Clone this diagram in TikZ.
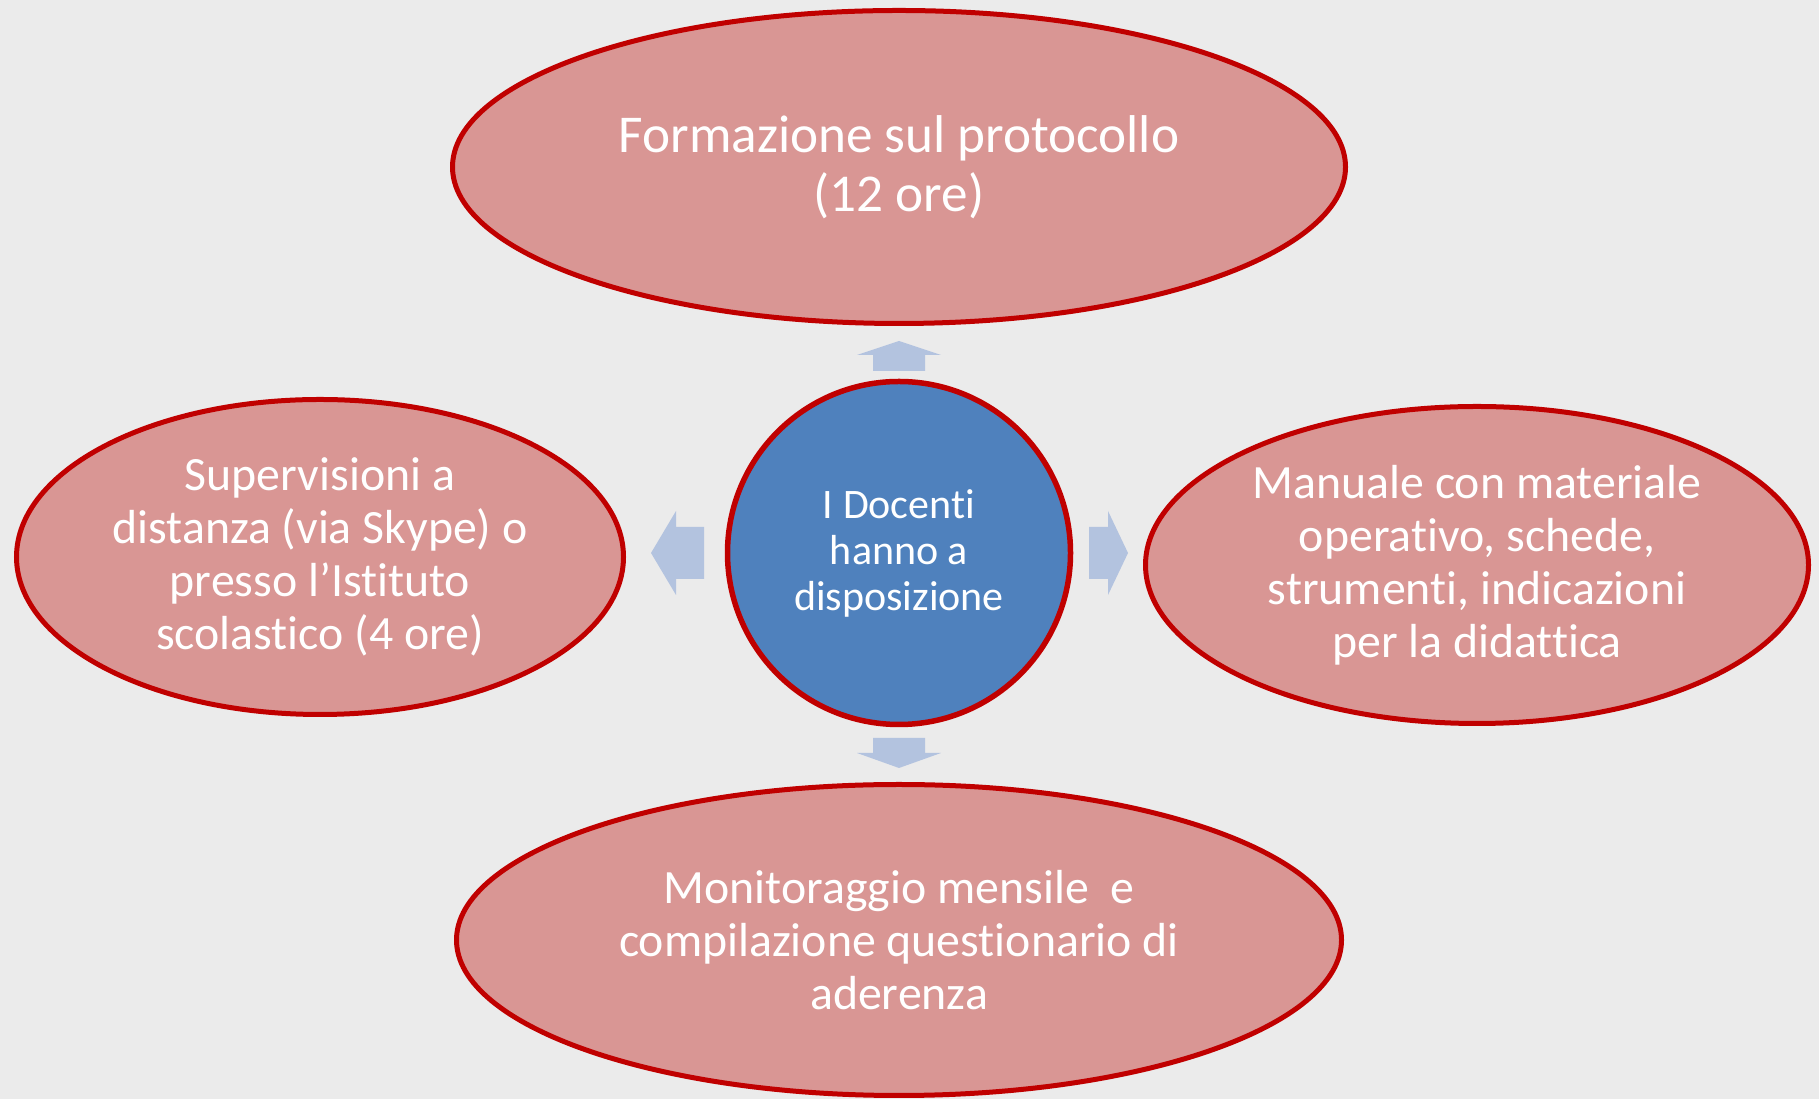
\documentclass[tikz,border=0pt]{standalone}
\usepackage{fontspec}
\setmainfont{Carlito}[RawFeature={-liga;-clig;-dlig;-calt;-rlig}]
\usetikzlibrary{shapes.geometric}
\definecolor{bgcol}{HTML}{EBEBEB}
\definecolor{petalfill}{HTML}{D99694}
\definecolor{petalline}{HTML}{C00000}
\definecolor{hubfill}{HTML}{4F81BD}
\definecolor{arrowfill}{HTML}{B3C3DF}
\begin{document}
\begin{tikzpicture}[x=1pt,y=1pt,
  petal/.style={ellipse,draw=petalline,fill=petalfill,line width=5pt,inner sep=0pt,
    text=white,align=center,font=\fontsize{47.8}{53}\selectfont},
  hubnode/.style={circle,draw=petalline,fill=hubfill,line width=5.5pt,inner sep=0pt,
    minimum size=343pt,text=white,align=center,font=\fontsize{42}{46}\selectfont},
  blockarrow/.style={fill=arrowfill}]
\useasboundingbox[fill=bgcol] (0,0) rectangle (1819,1099);
\node[hubnode] (hub) at (899,546) {I Docenti\\hanno a\\disposizione};
\node[petal,minimum width=893pt,minimum height=313pt,font=\fontsize{53.2}{59}\selectfont] (top) at (899,932)
  {Formazione sul protocollo\\(12 ore)};
\node[petal,minimum width=607pt,minimum height=315pt] (left) at (320,542)
  {Supervisioni a\\distanza (via Skype) o\\presso l’Istituto\\scolastico (4 ore)};
\node[petal,minimum width=663pt,minimum height=317pt] (right) at (1477,534)
  {Manuale con materiale\\operativo, schede,\\strumenti, indicazioni\\per la didattica};
\node[petal,minimum width=885pt,minimum height=311pt] (bottom) at (899,159)
  {Monitoraggio mensile~ e\\compilazione questionario di\\aderenza};
% block arrows round the hub
\foreach \ang/\rin/\hb/\tip in {90/182/198/212, 270/185/200/215, 180/195/223/248, 0/190/209/229}
  \fill[blockarrow,shift={(hub.center)},rotate=\ang]
    (\rin,-26) -- (\hb,-26) -- (\hb,-42) -- (\tip,0) -- (\hb,42) -- (\hb,26) -- (\rin,26) -- cycle;
\end{tikzpicture}
\end{document}
